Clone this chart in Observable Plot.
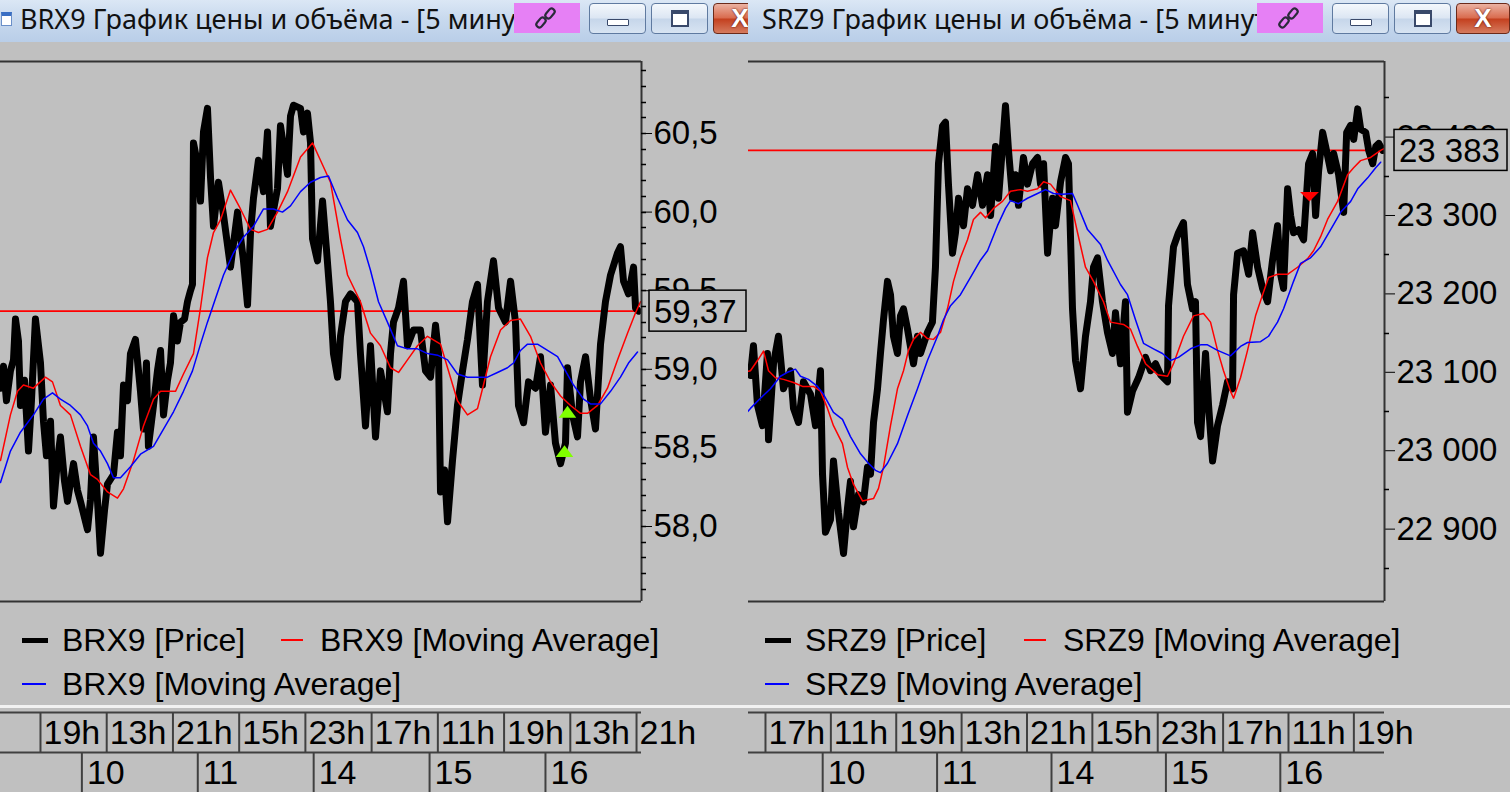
<!DOCTYPE html>
<html>
<head>
<meta charset="utf-8">
<script src="https://cdn.jsdelivr.net/npm/d3@7"></script>
<script src="https://cdn.jsdelivr.net/npm/@observablehq/plot@0.6"></script>
<style>
html,body{margin:0;padding:0;background:#fff;}
body{width:1510px;height:795px;position:relative;overflow:hidden;font-family:"Liberation Sans",Arial,sans-serif;}
.panel{position:absolute;top:0;height:795px;overflow:hidden;background:#c0c0c0;}
.titlebar{position:absolute;left:0;top:0;width:100%;height:42px;background:linear-gradient(#dbe7f5,#c8d9ee 45%,#b9cee8);}
.title{position:absolute;top:1px;font-family:"Noto Sans",sans-serif;font-size:27px;line-height:36px;color:#111;white-space:nowrap;}
.pink{position:absolute;top:3px;height:30px;width:66px;left:514px;background:#e680f5;}
.btn{position:absolute;top:3px;height:31px;width:57px;border:1px solid #5f7aa0;border-radius:4px;box-sizing:border-box;background:linear-gradient(#f4f8fc,#dce6f3 48%,#c6d6ea 52%,#d8e4f2);}
.close{background:linear-gradient(#ebb2a2,#d96b4e 48%,#c4401f 52%,#d57b5f);border-color:#6b2a1a;color:#fff;font:bold 26px "Liberation Sans";text-align:center;line-height:29px;text-shadow:0 0 2px #400;}
.legend{position:absolute;font-size:32px;line-height:36px;white-space:nowrap;color:#000;}
.sw{position:absolute;}
.sep{position:absolute;left:0;width:100%;top:705px;height:3px;background:#f2f2f2;}
.bottom{position:absolute;left:0;width:100%;top:792px;height:3px;background:#fff;}
.plotwrap{position:absolute;left:0;}
</style>
</head>
<body>
<div id="right" class="panel" style="left:743px;width:767px;"></div>
<div id="left" class="panel" style="left:0;width:748px;"></div>
<script>
// ---------- BRX9 (left) data: [trading hours since 10 Oct 10:00, price] ----------
const brxPrice = [[-9.83,58.88],[-9.47,59.02],[-9.11,58.80],[-8.63,58.99],[-8.26,59.06],[-8.02,59.32],[-7.66,59.18],[-7.42,58.77],[-6.93,58.93],[-6.45,58.48],[-6.09,58.80],[-5.61,59.32],[-5.24,59.15],[-5.00,59.04],[-4.64,58.67],[-4.28,58.45],[-3.79,58.67],[-3.43,58.13],[-2.95,58.42],[-2.59,58.57],[-2.10,58.29],[-1.74,58.16],[-1.01,58.40],[-0.53,58.23],[-0.17,58.16],[0.68,57.98],[1.04,58.17],[1.40,58.57],[1.88,58.17],[2.25,57.83],[2.73,58.10],[3.09,58.27],[3.82,58.33],[4.30,58.60],[4.66,58.45],[5.03,58.90],[5.51,58.80],[5.87,59.10],[6.47,59.19],[7.08,58.86],[7.44,58.62],[7.80,59.04],[8.04,58.51],[8.65,58.77],[9.13,58.99],[9.50,59.12],[9.86,58.71],[10.34,58.93],[10.70,59.04],[11.07,59.34],[11.55,59.18],[11.91,59.30],[12.40,59.32],[12.76,59.43],[13.12,59.50],[13.36,59.54],[13.48,60.44],[13.96,60.31],[14.33,60.07],[14.69,60.51],[15.17,60.66],[15.54,60.22],[15.90,59.91],[16.50,60.19],[17.11,59.98],[17.95,59.65],[18.80,60.00],[19.52,59.69],[20.01,59.41],[20.37,59.87],[20.73,60.09],[21.33,60.33],[21.94,60.13],[22.42,60.51],[22.78,59.91],[23.63,60.15],[23.99,60.55],[24.84,60.24],[25.20,60.61],[25.56,60.68],[26.41,60.66],[26.77,60.51],[27.25,60.63],[27.62,60.44],[27.86,59.83],[28.46,59.69],[29.07,60.07],[29.55,59.76],[30.03,59.43],[30.39,59.10],[30.88,58.95],[31.24,59.21],[31.84,59.43],[32.45,59.48],[33.29,59.43],[33.65,59.10],[34.26,58.64],[34.86,59.15],[35.47,58.57],[36.07,58.99],[36.91,58.73],[37.28,59.10],[37.64,59.30],[38.25,59.39],[38.85,59.56],[39.33,59.15],[40.06,59.25],[40.90,59.25],[41.51,58.99],[42.11,58.95],[42.72,59.28],[43.08,59.10],[43.32,58.22],[43.81,58.36],[44.17,58.03],[44.77,58.42],[45.37,58.77],[45.98,58.99],[46.58,59.19],[47.18,59.43],[47.79,59.54],[48.39,58.90],[48.99,59.43],[49.72,59.69],[50.33,59.39],[51.17,59.30],[51.78,59.56],[52.38,59.30],[52.74,58.77],[53.35,58.66],[53.95,58.92],[54.80,58.88],[55.40,59.08],[56.00,58.60],[56.61,58.90],[57.21,58.53],[57.82,58.40],[58.42,58.53],[58.66,59.01],[59.27,58.71],[59.87,58.57],[60.23,58.92],[60.84,59.08],[61.44,58.81],[62.04,58.62],[62.65,59.16],[63.25,59.43],[63.86,59.60],[64.70,59.74],[65.06,59.78],[65.43,59.56],[66.03,59.48],[66.64,59.65],[66.88,59.39],[67.24,59.37]];
const brxRed = [[-9.83,58.42],[-8.63,58.71],[-7.78,58.86],[-7.06,58.90],[-5.85,58.88],[-4.40,58.95],[-3.55,58.92],[-2.59,58.77],[-1.38,58.71],[-0.17,58.51],[1.04,58.33],[1.88,58.30],[3.09,58.22],[4.30,58.18],[5.03,58.24],[6.23,58.42],[7.44,58.64],[8.65,58.81],[9.50,58.86],[11.31,58.86],[12.27,58.97],[13.48,59.10],[14.33,59.39],[15.17,59.71],[15.90,59.87],[16.74,59.95],[17.95,60.14],[19.16,60.02],[20.37,59.89],[21.33,59.87],[22.42,59.89],[23.63,60.00],[24.84,60.13],[26.41,60.35],[27.86,60.44],[28.82,60.33],[30.03,60.19],[31.24,59.83],[32.09,59.60],[33.65,59.43],[34.86,59.23],[36.07,59.15],[37.28,59.01],[38.25,58.98],[39.33,59.06],[40.54,59.15],[41.75,59.21],[43.32,59.16],[44.17,59.01],[45.37,58.80],[46.58,58.71],[47.79,58.75],[48.51,58.90],[49.36,59.08],[50.57,59.25],[51.78,59.31],[52.98,59.32],[54.19,59.21],[55.40,59.04],[56.61,58.92],[57.82,58.83],[59.03,58.77],[60.23,58.72],[61.08,58.72],[62.29,58.77],[63.49,58.88],[64.70,59.06],[65.91,59.23],[66.88,59.36],[67.48,59.43]];
const brxBlue = [[-9.83,58.28],[-8.63,58.48],[-7.42,58.60],[-5.85,58.71],[-4.64,58.81],[-3.55,58.85],[-2.59,58.81],[-1.38,58.77],[-0.17,58.71],[0.68,58.64],[1.40,58.53],[2.25,58.48],[3.09,58.40],[3.82,58.31],[4.66,58.31],[5.87,58.38],[7.08,58.46],[8.65,58.51],[9.86,58.62],[11.07,58.73],[12.27,58.86],[13.36,58.99],[14.33,59.16],[15.17,59.30],[16.14,59.45],[17.11,59.60],[18.31,59.74],[19.52,59.84],[20.73,59.91],[21.94,60.02],[23.14,60.02],[24.23,60.00],[25.20,60.04],[26.41,60.13],[27.62,60.19],[28.82,60.22],[29.79,60.23],[30.88,60.09],[32.09,59.95],[33.29,59.87],[34.02,59.78],[34.86,59.63],[35.83,59.43],[36.91,59.30],[38.12,59.15],[39.33,59.13],[40.54,59.13],[41.75,59.10],[42.96,59.09],[44.17,59.06],[45.37,58.97],[46.58,58.95],[47.79,58.95],[48.99,58.95],[50.20,58.98],[51.41,59.01],[52.14,59.04],[52.98,59.12],[53.83,59.16],[55.04,59.16],[56.25,59.12],[57.46,59.08],[58.42,58.99],[59.39,58.90],[60.60,58.81],[61.44,58.78],[62.65,58.78],[63.86,58.86],[65.06,58.95],[66.03,59.04],[67.12,59.11]];
const brxBuy = [[58.66,58.73],[58.30,58.48]];
const brxLast = 59.37;
const brxYTicks = [58.0,58.5,59.0,59.5,60.0,60.5];
const brxHourT = [-5,3,11,19,27,35,43,51,59,67];
const brxHourLabels = ["19h","13h","21h","15h","23h","17h","11h","19h","13h","21h"];

// ---------- SRZ9 (right) data ----------
const srzPrice = [[-9.6,23100],[-8.84,23096],[-8.47,23134],[-7.98,23058],[-7.37,23032],[-6.76,23124],[-6.63,23014],[-6.02,23111],[-5.41,23146],[-4.80,23079],[-3.94,23102],[-3.57,23054],[-2.96,23036],[-2.35,23088],[-1.49,23072],[-0.88,23032],[-0.27,23102],[-0.02,22970],[0.34,22896],[0.95,22912],[1.32,22987],[1.93,22921],[2.55,22869],[3.03,22926],[3.40,22961],[3.77,22903],[4.38,22944],[4.99,22935],[5.48,22979],[5.85,22970],[6.22,23036],[6.71,23079],[7.07,23124],[7.44,23167],[7.93,23216],[8.30,23199],[8.66,23146],[9.15,23124],[9.52,23172],[9.89,23181],[10.38,23155],[10.74,23133],[11.11,23111],[11.60,23146],[11.97,23124],[12.82,23151],[13.43,23164],[13.80,23234],[14.17,23366],[14.66,23414],[15.03,23419],[15.39,23340],[15.88,23252],[16.25,23278],[16.62,23322],[17.23,23287],[17.72,23334],[18.33,23313],[18.95,23352],[19.56,23313],[20.17,23352],[20.54,23300],[21.15,23388],[21.52,23322],[22.00,23388],[22.37,23440],[22.74,23383],[23.23,23322],[23.60,23352],[23.96,23313],[24.57,23374],[25.06,23340],[25.68,23366],[26.29,23374],[26.66,23340],[27.03,23366],[27.52,23252],[28.13,23322],[28.49,23287],[29.11,23343],[29.72,23374],[30.08,23366],[30.57,23181],[30.94,23115],[31.55,23079],[32.16,23146],[32.77,23190],[33.14,23234],[33.63,23246],[34.24,23190],[34.85,23151],[35.46,23124],[35.83,23176],[36.44,23111],[37.05,23190],[37.30,23049],[37.91,23076],[38.65,23093],[39.51,23119],[40.12,23102],[40.73,23111],[41.34,23097],[42.20,23088],[42.32,23185],[42.93,23260],[43.54,23278],[44.15,23291],[44.64,23212],[45.25,23181],[45.62,23190],[45.87,23036],[46.24,23018],[46.85,23124],[47.22,23058],[47.71,22987],[48.32,23032],[48.93,23058],[49.54,23088],[50.16,23079],[50.28,23199],[50.77,23252],[51.50,23255],[52.12,23225],[52.61,23278],[53.22,23234],[53.83,23207],[54.44,23190],[55.05,23243],[55.66,23287],[56.03,23225],[56.40,23207],[56.89,23334],[57.26,23300],[57.62,23278],[58.24,23282],[58.85,23269],[59.46,23366],[59.95,23379],[60.32,23300],[60.69,23357],[61.18,23406],[61.55,23388],[62.16,23357],[62.53,23379],[63.14,23352],[63.75,23304],[64.12,23406],[64.61,23415],[64.98,23397],[65.47,23436],[65.84,23410],[66.45,23406],[66.82,23383],[67.31,23366],[67.68,23388],[68.05,23392],[68.54,23383]];
const srzRed = [[-9.6,23100],[-8.84,23102],[-7.98,23115],[-7.24,23127],[-6.63,23102],[-5.78,23093],[-4.80,23091],[-3.57,23087],[-2.47,23082],[-1.13,23082],[-0.27,23076],[0.59,23054],[1.32,23032],[2.42,23009],[3.03,22979],[3.77,22957],[4.87,22936],[6.22,22939],[6.83,22952],[7.44,22979],[8.30,23032],[9.15,23079],[9.89,23102],[10.50,23128],[11.11,23142],[11.97,23151],[12.82,23143],[13.56,23142],[14.42,23151],[15.27,23181],[16.01,23216],[16.86,23246],[17.72,23269],[18.45,23295],[19.31,23304],[19.92,23297],[20.90,23309],[22.00,23318],[22.98,23331],[24.21,23333],[25.06,23331],[26.29,23334],[27.03,23343],[27.88,23340],[29.11,23324],[30.33,23319],[31.19,23278],[32.16,23234],[33.14,23216],[34.36,23190],[35.22,23164],[36.81,23161],[37.67,23155],[38.53,23133],[39.51,23111],[40.98,23097],[42.20,23095],[42.93,23111],[44.15,23146],[45.38,23172],[46.60,23175],[47.46,23164],[48.32,23128],[49.05,23102],[49.90,23076],[50.28,23067],[51.13,23093],[51.99,23128],[52.97,23172],[53.83,23199],[54.56,23221],[55.66,23225],[56.89,23225],[58.11,23234],[59.34,23245],[60.07,23255],[60.93,23273],[61.78,23295],[63.01,23318],[64.23,23352],[64.97,23361],[65.82,23370],[67.05,23374],[68.28,23383],[68.64,23385]];
const srzBlue = [[-9.6,23045],[-8.84,23054],[-7.61,23067],[-6.39,23079],[-5.17,23095],[-4.31,23100],[-3.33,23104],[-2.72,23095],[-1.74,23091],[-0.64,23082],[0.10,23072],[1.32,23049],[2.42,23040],[3.40,23018],[4.63,22996],[5.60,22984],[6.46,22975],[7.07,22972],[7.93,22984],[9.15,23009],[10.38,23045],[11.60,23079],[12.82,23115],[14.05,23146],[14.78,23167],[15.64,23185],[16.86,23199],[18.09,23221],[19.31,23243],[20.17,23255],[21.39,23287],[22.37,23309],[22.98,23319],[23.96,23315],[25.06,23322],[26.29,23328],[27.27,23333],[28.25,23328],[29.35,23327],[30.57,23328],[31.19,23313],[32.41,23282],[34.00,23263],[34.85,23243],[36.44,23212],[37.30,23199],[38.28,23167],[39.26,23137],[40.48,23130],[41.58,23124],[42.56,23115],[43.54,23119],[45.01,23130],[46.24,23135],[47.09,23135],[48.32,23128],[49.90,23121],[51.13,23133],[51.99,23138],[53.58,23139],[54.56,23146],[55.66,23164],[56.40,23181],[57.62,23216],[58.48,23239],[59.70,23246],[60.93,23260],[62.16,23282],[63.38,23304],[64.61,23318],[65.47,23334],[66.69,23348],[67.67,23361],[68.28,23368]];
const srzSell = [[59.57,23324]];
const srzLast = 23383;
const srzYTicks = [22900,23000,23100,23200,23300,23400];
const srzHourT = [-7,1,9,17,25,33,41,49,57,65];
const srzHourLabels = ["17h","11h","19h","13h","21h","15h","23h","17h","11h","19h"];

// shared day ticks (trading-hour offsets of session starts)
const dayT = [0,14,28,42,56];
const dayLabels = ["10","11","14","15","16"];

// ---------- helpers ----------
const triUp = {draw(ctx, size){const a=Math.sqrt(size/Math.PI)*1.35,h=a*1.35;ctx.moveTo(0,-h/2);ctx.lineTo(a,h/2);ctx.lineTo(-a,h/2);ctx.closePath();}};
const triDown = {draw(ctx, size){const a=Math.sqrt(size/Math.PI)*1.45,h=a*1.0;ctx.moveTo(-a,-h/2);ctx.lineTo(a,-h/2);ctx.lineTo(0,h/2);ctx.closePath();}};

function el(parent, cls, css, html){const d=document.createElement("div");if(cls)d.className=cls;Object.assign(d.style,css||{});if(html)d.innerHTML=html;parent.appendChild(d);return d;}

const chainSvg = '<svg width="24" height="24" viewBox="0 0 24 24" style="position:absolute;left:20px;top:3px"><g fill="none" stroke="#2a2a3a" stroke-width="2.2"><rect x="4" y="11" width="6" height="11" rx="3" transform="rotate(40 7 16.5)"/><rect x="13" y="2" width="6" height="11" rx="3" transform="rotate(40 16 7.5)"/></g></svg>';

function yFn(scales){ return typeof scales.y === "function" ? scales.y : (scales.scales && scales.scales.y) || scales.y.apply; }

function buildPanel(cfg){
  const root = document.getElementById(cfg.id);
  const W = cfg.width, FR = 641;
  // title bar
  const tb = el(root, "titlebar");
  if (cfg.icon) el(tb, null, {position:"absolute",left:"1px",top:"12px",width:"11px",height:"14px",background:"#fff",border:"1px solid #6a8fc8",borderTop:"4px solid #3a6fc4",boxSizing:"border-box"});
  el(tb, "title", {left: cfg.titleX + "px"}, cfg.title);
  const pk = el(tb, "pink"); pk.innerHTML = chainSvg;
  const mn = el(tb, "btn", {left:"589px"}); el(mn, null, {position:"absolute",left:"17px",top:"15px",width:"22px",height:"7px",background:"#fff",border:"1px solid #39496a",boxSizing:"border-box",borderRadius:"1px"});
  const mx = el(tb, "btn", {left:"651px"}); el(mx, null, {position:"absolute",left:"19px",top:"6px",width:"18px",height:"17px",background:"#fff",border:"2px solid #39496a",borderTopWidth:"4px",boxSizing:"border-box"});
  el(tb, "btn close", {left:"713px",width:"54px"}, "X");

  const fmt = cfg.fmt;
  // minor ticks on the right of the frame, positioned with the plot's y scale
  const minorTicks = (index, scales, values, dims) => {
    const y = yFn(scales);
    const g = d3.create("svg:g").attr("stroke", "#000").attr("stroke-width", 1.5);
    const x0 = dims.width - dims.marginRight;
    for (const v of cfg.minorTicks) {
      const yy = Math.round(y(v)) + 0.5;
      g.append("line").attr("x1", x0).attr("x2", x0 + 5).attr("y1", yy).attr("y2", yy);
    }
    return g.node();
  };
  // current-value box
  const valueBox = (index, scales, values, dims) => {
    const y = yFn(scales)(cfg.last);
    const g = d3.create("svg:g");
    const x0 = dims.width - dims.marginRight + cfg.boxDx;
    g.append("rect").attr("x", x0).attr("y", y - 20.5).attr("width", cfg.boxW).attr("height", 41)
      .attr("fill", "#c0c0c0").attr("stroke", "#000").attr("stroke-width", 1.5);
    g.append("text").attr("x", x0 + 5).attr("y", y).attr("dy", "0.36em").attr("text-anchor", "start")
      .attr("font-size", 33).attr("font-family", "Liberation Sans").attr("fill", "#000").text(fmt(cfg.last));
    return g.node();
  };
  const main = Plot.plot({
    width: W, height: 562,
    marginLeft: 0, marginRight: W - FR, marginTop: 19, marginBottom: 3,
    x: {domain: cfg.xDomain, axis: null},
    y: {domain: cfg.yDomain, axis: "right", ticks: cfg.yTicks, tickSize: 10, tickPadding: 2, tickFormat: fmt, label: null},
    style: {background: "transparent", fontFamily: "Liberation Sans", fontSize: "33px", color: "#000", overflow: "visible", maxWidth: "none"},
    marks: [
      Plot.ruleY([cfg.last], {stroke: "#ff0000", strokeWidth: 1.6}),
      Plot.line(cfg.price, {x: d => d[0], y: d => d[1], stroke: "#000", strokeWidth: 7, strokeLinejoin: "round", clip: true}),
      Plot.line(cfg.red, {x: d => d[0], y: d => d[1], stroke: "#ff0000", strokeWidth: 1.5, clip: true}),
      Plot.line(cfg.blue, {x: d => d[0], y: d => d[1], stroke: "#0000ff", strokeWidth: 1.5, clip: true}),
      Plot.dot(cfg.signals, {x: d => d[0], y: d => d[1], symbol: cfg.signalSymbol, r: 6.5, fill: cfg.signalColor, stroke: "none"}),
      Plot.ruleY([cfg.yDomain[1]], {stroke: "#333", strokeWidth: 2}),
      Plot.ruleY([cfg.yDomain[0]], {stroke: "#333", strokeWidth: 2}),
      Plot.ruleX([cfg.xDomain[1]], {stroke: "#333", strokeWidth: 2}),
      minorTicks,
      valueBox
    ]
  });
  el(root, "plotwrap", {top: "42px"}).appendChild(main);

  // legend
  el(root, "sw", {left:"22px", top:"638px", width:"26px", height:"5px", background:"#000"});
  el(root, "legend", {left:"62px", top:"622px"}, cfg.name + " [Price]");
  el(root, "sw", {left:"281px", top:"639px", width:"22px", height:"2px", background:"#ff0000"});
  el(root, "legend", {left:"320px", top:"622px"}, cfg.name + " [Moving Average]");
  el(root, "sw", {left:"22px", top:"683px", width:"24px", height:"2px", background:"#0000ff"});
  el(root, "legend", {left:"62px", top:"666px"}, cfg.name + " [Moving Average]");
  el(root, "sep");

  // time axis
  const axisColor = "#404040";
  const tAxis = Plot.plot({
    width: W, height: 87,
    marginLeft: 0, marginRight: W - FR, marginTop: 4, marginBottom: 3,
    x: {domain: cfg.xDomain, axis: null},
    y: {domain: [0, 2], axis: null},
    style: {background: "transparent", fontFamily: "Liberation Sans", color: "#000", overflow: "visible", maxWidth: "none"},
    marks: [
      Plot.ruleY([1, 2], {x1: cfg.xDomain[0], x2: cfg.xDomain[1], stroke: axisColor, strokeWidth: 2}),
      Plot.ruleX(cfg.hourT, {x: d => d, y1: 1, y2: 2, stroke: axisColor, strokeWidth: 2}),
      Plot.text(cfg.hourT, {x: d => d, y: 1.5, text: (d, i) => cfg.hourLabels[i], textAnchor: "start", dx: 3, dy: 1, fontSize: 34, fill: "#000"}),
      Plot.ruleX(dayT, {x: d => d, y1: 0, y2: 1, stroke: axisColor, strokeWidth: 2}),
      Plot.text(dayT, {x: d => d, y: 0.5, text: (d, i) => dayLabels[i], textAnchor: "start", dx: 5, dy: 1, fontSize: 34, fill: "#000"})
    ]
  });
  el(root, "plotwrap", {top: "708px"}).appendChild(tAxis);
  el(root, "bottom");
}

const fmtBrx = d => (Math.round(d * 100) % 10 === 0 ? d.toFixed(1) : d.toFixed(2)).replace(".", ",");
const fmtSrz = d => d3.format(",")(d).replace(/,/g, " ");

buildPanel({
  id: "right", width: 767, name: "SRZ9", icon: false, titleX: 19,
  title: "SRZ9 График цены и объёма - [5 минут]",
  price: srzPrice, red: srzRed, blue: srzBlue,
  signals: srzSell, signalSymbol: triDown, signalColor: "#ff0000",
  last: srzLast, fmt: fmtSrz, boxDx: 10, boxW: 113,
  xDomain: [-9.69, 68.75], yDomain: [22807.7, 23496.4],
  yTicks: srzYTicks, minorTicks: d3.range(22850, 23500, 100),
  hourT: srzHourT, hourLabels: srzHourLabels
});
buildPanel({
  id: "left", width: 748, name: "BRX9", icon: true, titleX: 20,
  title: "BRX9 График цены и объёма - [5 минут]",
  price: brxPrice, red: brxRed, blue: brxBlue,
  signals: brxBuy, signalSymbol: triUp, signalColor: "#80ff00",
  last: brxLast, fmt: fmtBrx, boxDx: 8, boxW: 97,
  xDomain: [-9.83, 67.6], yDomain: [57.523, 60.958],
  yTicks: brxYTicks, minorTicks: d3.range(57.6, 60.95, 0.1),
  hourT: brxHourT, hourLabels: brxHourLabels
});
</script>
</body>
</html>
